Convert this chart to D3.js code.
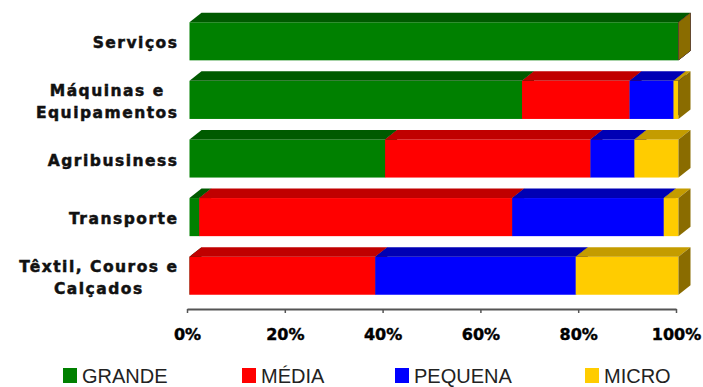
<!DOCTYPE html>
<html>
<head>
<meta charset="utf-8">
<script src="https://cdn.jsdelivr.net/npm/d3@7"></script>
<style>
  html, body { margin: 0; padding: 0; background: #fff; }
  svg { display: block; }
</style>
</head>
<body>
<svg id="chart" width="703" height="387"></svg>
<script>
// Sector names (line breaks mark the wrapped labels)
const categories = ["Serviços", "Máquinas e\nEquipamentos", "Agribusiness", "Transporte", "Têxtil, Couros e\nCalçados"];
// Share of companies by size, in percent
const grande  = [100, 68, 40, 2, 0];
const media   = [0, 22, 42, 64, 38];
const pequena = [0, 9, 9, 31, 41];
const micro   = [0, 1, 9, 3, 21];
const seriesNames = ["GRANDE", "MÉDIA", "PEQUENA", "MICRO"];
const tickValues = [0, 20, 40, 60, 80, 100];
const tickLabels = ["0%", "20%", "40%", "60%", "80%", "100%"];

const faceColors = ["#008000", "#ff0000", "#0000ff", "#ffcc00"];
const topColors  = ["#005a00", "#c00000", "#0000b4", "#c49c00"];
const sideColors = ["#004000", "#800000", "#000080", "#8a6c00"];

const rows = categories.map((c, i) => ({
  cat: c, GRANDE: grande[i], "MÉDIA": media[i], PEQUENA: pequena[i], MICRO: micro[i]
}));
const stacked = d3.stack().keys(seriesNames)(rows);

const svg = d3.select("#chart");
const x = d3.scaleLinear().domain([0, 100]).range([187, 676]);
const y = d3.scaleBand().domain(categories).range([12, 305]).paddingInner(0.35).paddingOuter(0.175);
const dx = 12, dy = 9.5;

// 3D bars: front face, top face and right side for each segment
const bars = svg.append("g").attr("transform", "translate(2.5,0)");
stacked.forEach((layer, si) => {
  const g = bars.append("g");
  layer.forEach((d, ri) => {
    const x0 = x(d[0]), x1 = x(d[1]);
    const yt = y(categories[ri]), h = y.bandwidth();
    g.append("rect")
      .attr("x", x0).attr("y", yt).attr("width", x1 - x0).attr("height", h)
      .attr("fill", faceColors[si]);
    g.append("path")
      .attr("d", `M${x0},${yt}L${x1},${yt}L${x1 + dx},${yt - dy}L${x0 + dx},${yt - dy}Z`)
      .attr("fill", topColors[si]);
    g.append("path")
      .attr("d", `M${x1},${yt}L${x1 + dx},${yt - dy}L${x1 + dx},${yt + h - dy}L${x1},${yt + h}Z`)
      .attr("fill", sideColors[si]);
  });
});

// Category labels: lines centred as a block, block right-aligned
const labelRight = 177;
const lineH = 22;
const ls = 1.5;
categories.forEach(c => {
  const lines = c.split("\n");
  const g = svg.append("g");
  const texts = lines.map((t, i) => g.append("text")
    .text(t)
    .attr("font-family", "DejaVu Sans, sans-serif")
    .attr("font-weight", "bold")
    .attr("font-size", 15.5)
    .attr("letter-spacing", ls)
    .attr("fill", "#111")
    .attr("stroke", "#111")
    .attr("stroke-width", 0.5)
    .attr("text-anchor", "middle")
    .attr("dominant-baseline", "central")
    .attr("y", y(c) + y.bandwidth() / 2 + 2 + (i - (lines.length - 1) / 2) * lineH));
  const maxW = d3.max(texts, t => t.node().getComputedTextLength()) - ls;
  texts.forEach(t => t.attr("x", labelRight - maxW / 2 + ls / 2));
});

// Percentage axis
const axis = svg.append("g")
  .attr("transform", "translate(0,309)")
  .call(d3.axisBottom(x).tickValues(tickValues).tickFormat((d, i) => tickLabels[i]).tickSize(4).tickSizeOuter(0).tickPadding(16));
axis.select(".domain").attr("stroke", "#555").attr("stroke-width", 2);
axis.selectAll(".tick line").attr("stroke", "#555").attr("stroke-width", 1.5);
axis.selectAll(".tick text")
  .attr("font-family", "DejaVu Sans, sans-serif")
  .attr("font-weight", "bold")
  .attr("font-size", 16)
  .attr("fill", "#000")
  .attr("stroke", "#000")
  .attr("stroke-width", 0.4);

// Legend
const legendX = [63, 242, 395, 585];
const legend = svg.append("g");
seriesNames.forEach((s, i) => {
  legend.append("rect")
    .attr("x", legendX[i]).attr("y", 368).attr("width", 14).attr("height", 15)
    .attr("fill", faceColors[i]);
  legend.append("text")
    .attr("x", legendX[i] + 19).attr("y", 376)
    .attr("dominant-baseline", "central")
    .attr("font-family", "Liberation Sans, Arial, sans-serif")
    .attr("font-size", 20)
    .attr("fill", "#222")
    .text(s);
});
</script>
</body>
</html>
